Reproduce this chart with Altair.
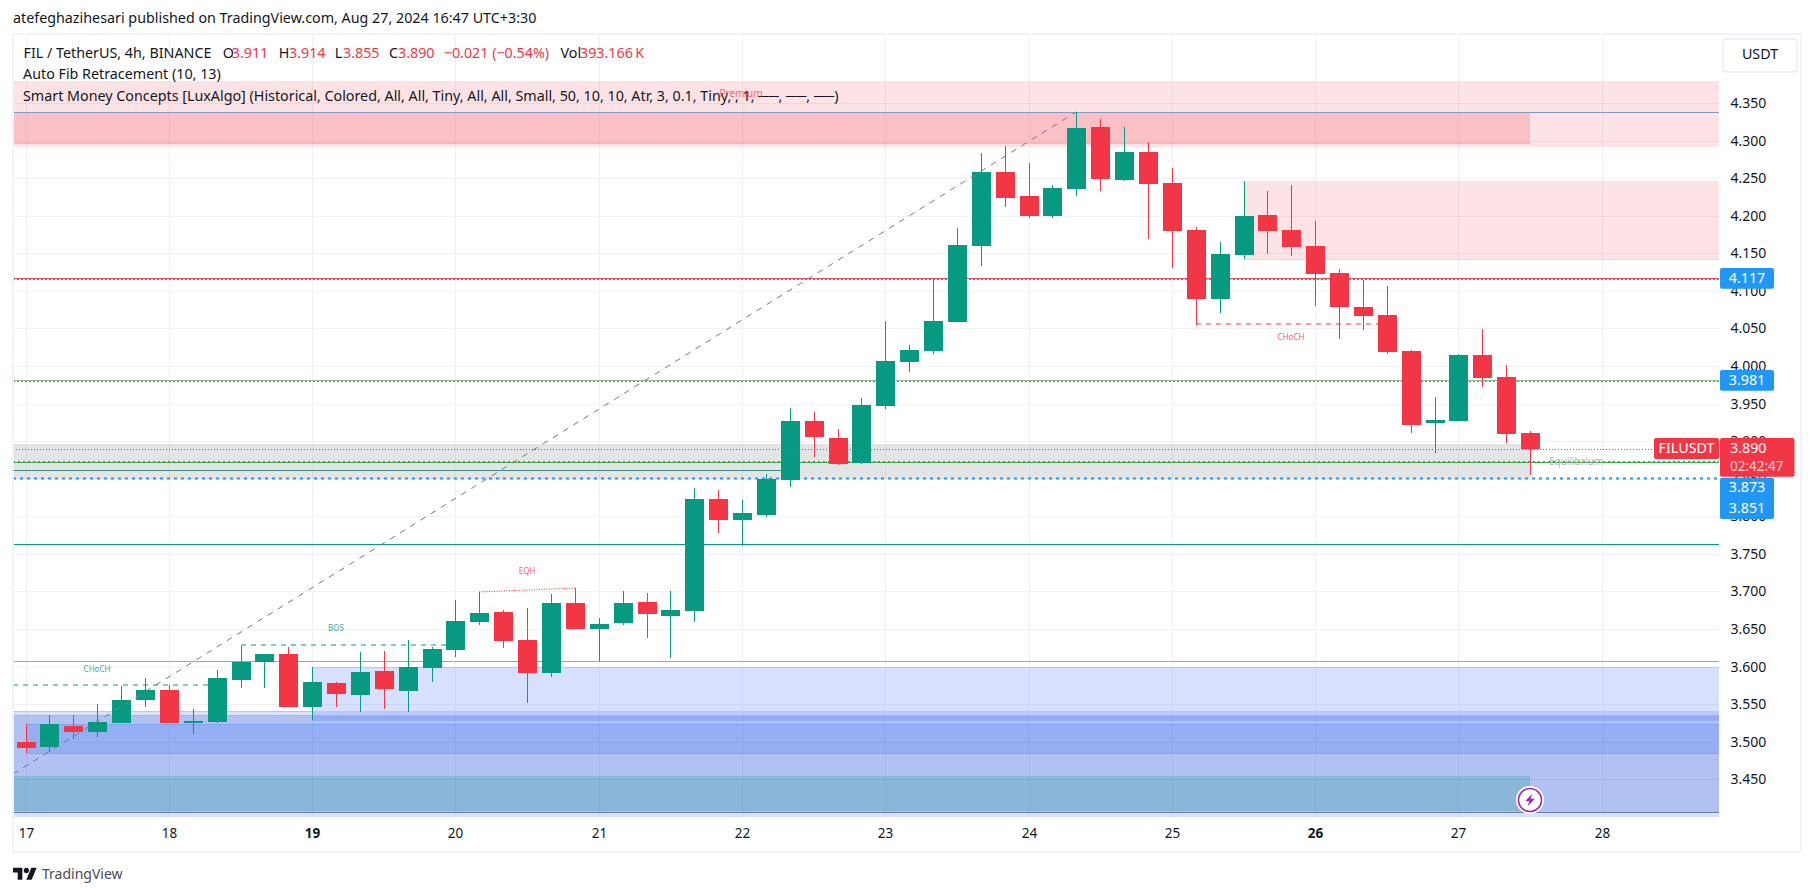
import altair as alt
import pandas as pd

FONT = "Noto Sans"
GREEN = "#089981"
RED = "#f23645"
BLUE = "#2196f3"

opens = [3.500,3.493,3.521,3.513,3.525,3.556,3.569,3.525,3.526,3.582,3.606,3.617,3.546,3.578,3.562,3.594,
         3.568,3.598,3.622,3.659,3.673,3.635,3.592,3.685,3.650,3.658,3.686,3.667,3.674,3.823,3.795,3.802,
         3.848,3.927,3.904,3.871,3.947,4.005,4.020,4.059,4.160,4.258,4.226,4.200,4.236,4.318,4.248,4.285,
         4.244,4.181,4.089,4.148,4.201,4.181,4.160,4.124,4.079,4.068,4.020,3.924,3.927,4.015,3.985,3.911]
highs = [3.524,3.536,3.536,3.550,3.574,3.585,3.576,3.544,3.596,3.628,3.617,3.626,3.600,3.580,3.619,3.621,
         3.635,3.626,3.689,3.699,3.675,3.678,3.697,3.704,3.665,3.701,3.698,3.701,3.838,3.835,3.822,3.856,
         3.944,3.939,3.916,3.957,4.060,4.028,4.116,4.184,4.283,4.293,4.270,4.241,4.338,4.329,4.318,4.298,
         4.264,4.185,4.165,4.246,4.233,4.241,4.193,4.129,4.114,4.106,4.021,3.959,4.016,4.049,4.001,3.914]
lows = [3.485,3.486,3.503,3.506,3.525,3.546,3.525,3.510,3.525,3.572,3.572,3.546,3.529,3.546,3.540,3.544,
        3.540,3.580,3.613,3.655,3.625,3.552,3.586,3.650,3.608,3.655,3.638,3.612,3.659,3.778,3.760,3.799,
        3.839,3.879,3.868,3.870,3.943,3.992,4.016,4.059,4.133,4.212,4.197,4.197,4.226,4.233,4.246,4.169,
        4.130,4.055,4.071,4.142,4.149,4.146,4.080,4.036,4.048,4.016,3.911,3.884,3.927,3.972,3.898,3.855]
closes = [3.492,3.524,3.513,3.526,3.556,3.569,3.525,3.528,3.585,3.606,3.617,3.546,3.580,3.564,3.593,3.570,
          3.600,3.623,3.661,3.671,3.634,3.592,3.685,3.650,3.657,3.685,3.670,3.675,3.823,3.795,3.804,3.850,
          3.927,3.906,3.870,3.948,4.007,4.021,4.060,4.161,4.258,4.224,4.200,4.237,4.317,4.249,4.285,4.242,
          4.180,4.089,4.149,4.200,4.180,4.158,4.122,4.079,4.067,4.019,3.921,3.928,4.015,3.984,3.910,3.890]
candle_index = list(range(len(opens)))

day_ticks = [0, 6, 12, 18, 24, 30, 36, 42, 48, 54, 60, 66]
price_ticks = [3.45, 3.5, 3.55, 3.6, 3.65, 3.7, 3.75, 3.8, 3.85, 3.9, 3.95, 4.0, 4.05, 4.1, 4.15, 4.2, 4.25, 4.3, 4.35]

X_MIN, X_MAX = -0.528, 70.91
Y_MIN, Y_MAX = 3.39987, 4.44045

# zones: left, right, low, high, fill, fill opacity
zone_left = [X_MIN, X_MIN, 51, X_MIN, 12, X_MIN, X_MIN, 0, X_MIN]
zone_right = [X_MAX, 63, X_MAX, 63, X_MAX, X_MAX, X_MAX, X_MAX, 63]
zone_low = [4.2918, 4.2971, 4.1428, 3.8492, 3.5289, 3.39987, 3.4066, 3.4854, 3.4078]
zone_high = [4.3792, 4.3376, 4.2468, 3.8962, 3.5995, 3.5409, 3.5356, 3.5236, 3.4545]
zone_fill = [RED, RED, RED, "#787b86", "#2962ff", "#2962ff", "#143cbe", "#2962ff", "#2fa0a0"]
zone_alpha = [0.14, 0.2, 0.14, 0.207, 0.19, 0.19, 0.196, 0.2, 0.3]

# horizontal levels: price, colour, dash, width, from, to
level_price = [4.3376, 4.1170, 4.1155, 3.9810, 3.9795, 3.8730, 3.8722, 3.8510, 3.7627, 3.8610, 3.6070, 3.4062,
               4.2971, 3.5995, 3.5409, 3.5356, 3.5289, 3.5236, 3.4854, 4.1428]
level_color = ["#7f9bc8", "#e0525c", BLUE, "#8fbf8e", BLUE, BLUE, "#3ea64a", BLUE, GREEN, "#3a8f7c", "#7ab0e8", "#6b7ea8",
               "#f7b3ba", "#afc8f7", "#b4c9f5", "#9db8f0", "#8fb0f2", "#7ea5ef", "#7ea5ef", "#f9d0d3"]
level_dash = [[1, 0], [1, 0], [2, 2], [1, 0], [2, 2], [2, 3], [1, 0], [3, 4], [1, 0], [1, 0], [1, 0], [1, 0],
              [1, 0], [1, 0], [1, 0], [1, 0], [1, 0], [1, 0], [1, 0], [1, 0]]
level_width = [1, 1, 1, 1, 1, 1, 1, 2, 1, 1, 1, 1,
               1, 1, 1, 1, 1, 1, 1, 1]
level_from = [X_MIN] * 12 + [X_MIN, 12, X_MIN, X_MIN, 12, 0, 0, 51]
level_to = [X_MAX] * 9 + [32, X_MAX, X_MAX] + [63, X_MAX, X_MAX, X_MAX, X_MAX, X_MAX, X_MAX, X_MAX]

# structure labels
struct_x1 = [X_MIN, 9, 19, 49]
struct_x2 = [8, 18, 23, 57]
struct_y1 = [3.5751, 3.6283, 3.6989, 4.0554]
struct_y2 = [3.5751, 3.6283, 3.7042, 4.0554]
struct_color = [GREEN, GREEN, RED, RED]
struct_dash = [[5, 5], [5, 5], [1, 1.5], [5, 5]]
struct_text = ["CHoCH", "BOS", "EQH", "CHoCH"]
struct_text_x = [3, 13, 21, 53]
struct_text_y = [3.5955, 3.65, 3.7259, 4.0373]

fib_x = [X_MIN, 44]
fib_y = [3.4567, 4.338]

xs = alt.Scale(domain=[X_MIN, X_MAX], round=True, nice=False, zero=False, padding=0)
ys = alt.Scale(domain=[Y_MIN, Y_MAX], round=True, nice=False, zero=False, padding=0)
AX = alt.Axis(
    values=day_ticks, labelExpr="toString(17 + datum.value / 6)", orient="bottom",
    ticks=False, domain=False, grid=True, gridColor="#f0f1f4", gridWidth=1,
    labelFont=FONT, labelFontSize=13.5, labelColor="#131722", labelPadding=9,
    labelFlush=False, labelOverlap=False,
    labelFontWeight={"condition": {"test": "datum.value == 12 || datum.value == 54", "value": "bold"}, "value": "normal"},
)
AY = alt.Axis(
    values=price_ticks, format=".3f", orient="right", ticks=False, domain=False,
    grid=True, gridColor="#f0f1f4", gridWidth=1,
    labelFont=FONT, labelFontSize=14, labelColor="#131722", labelPadding=11,
    labelOverlap=False, labelFlush=False,
)
def XF(f):
    return alt.X(f, scale=xs, axis=AX, title=None)
def YF(f):
    return alt.Y(f, scale=ys, axis=AY, title=None)
X = XF("i:Q")
Y = YF("p:Q")

px = lambda v: v - 13
py = lambda v: v - 35

zones = alt.Chart(pd.DataFrame({
    "x1": zone_left, "x2": zone_right, "y1": zone_low, "y2": zone_high,
    "f": zone_fill, "a": zone_alpha, "o": list(range(len(zone_left))),
})).mark_rect().encode(
    x=XF("x1:Q"), x2="x2:Q", y=YF("y1:Q"), y2="y2:Q",
    fill=alt.Fill("f:N", scale=None), fillOpacity=alt.FillOpacity("a:Q", scale=None),
    order="o:Q",
)

levels = []
for k in range(len(level_price)):
    d = pd.DataFrame({"x1": [level_from[k]], "x2": [level_to[k]], "p": [level_price[k]]})
    levels.append(alt.Chart(d).mark_rule(color=level_color[k], strokeDash=level_dash[k],
                                         strokeWidth=level_width[k], yOffset=0.5).encode(
        x=XF("x1:Q"), x2="x2:Q", y=Y))

structs = []
for k in range(4):
    d = pd.DataFrame({"i": [struct_x1[k], struct_x2[k]], "p": [struct_y1[k], struct_y2[k]]})
    structs.append(alt.Chart(d).mark_line(color=struct_color[k], strokeDash=struct_dash[k], strokeWidth=1).encode(x=X, y=Y))
    t = pd.DataFrame({"i": [struct_text_x[k]], "p": [struct_text_y[k]], "t": [struct_text[k]]})
    structs.append(alt.Chart(t).mark_text(color=struct_color[k], font=FONT, fontSize=8, opacity=0.8).encode(x=X, y=Y, text="t:N"))

frame = pd.DataFrame({"i": candle_index, "o": opens, "h": highs, "l": lows, "c": closes})
frame["col"] = [GREEN if c >= o else RED for o, c in zip(opens, closes)]
wicks = alt.Chart(frame).mark_rule(strokeWidth=1, xOffset=0.5).encode(
    x=X, y=YF("l:Q"), y2="h:Q", color=alt.Color("col:N", scale=None))
bodies = alt.Chart(frame).mark_bar(size=19, xOffset=0.5, orient="vertical").encode(
    x=X, y=YF("o:Q"), y2="c:Q", color=alt.Color("col:N", scale=None))

redline = alt.Chart(pd.DataFrame({"x1": [X_MIN], "x2": [68.3], "p": [3.8895]})).mark_rule(
    color=RED, strokeDash=[1, 2], strokeWidth=1, yOffset=0.5).encode(
    x=XF("x1:Q"), x2="x2:Q", y=Y)
fib = alt.Chart(pd.DataFrame({"i": fib_x, "p": fib_y})).mark_line(
    color="#787b86", strokeDash=[6, 6], strokeWidth=1).encode(x=X, y=Y)

def txt(x, y, s, color="#131722", size=14.3, align="left", weight="normal", opacity=1.0):
    return alt.Chart(pd.DataFrame({"t": [s]})).mark_text(
        align=align, baseline="middle", color=color, font=FONT, fontSize=size,
        fontWeight=weight, opacity=opacity,
    ).encode(x=alt.value(px(x)), y=alt.value(py(y)), text="t:N")

def box(x1, x2, y1, y2, fill="#ffffff", stroke=None, radius=2):
    kw = dict(fill=fill, cornerRadius=radius)
    if stroke:
        kw.update(stroke=stroke, strokeWidth=1)
    return alt.Chart(pd.DataFrame({"a": [0]})).mark_rect(**kw).encode(
        x=alt.value(px(x1)), x2=alt.value(px(x2)), y=alt.value(py(y1)), y2=alt.value(py(y2)))

chrome = [
    alt.Chart(pd.DataFrame({"a": [0]})).mark_rect(fillOpacity=0, stroke="#f0f3fa", strokeWidth=2).encode(
        x=alt.value(px(13)), x2=alt.value(px(1801)), y=alt.value(py(34)), y2=alt.value(py(852))),
    txt(13, 18.5, "atefeghazihesari published on TradingView.com, Aug 27, 2024 16:47 UTC+3:30"),
]
row1 = [(23.5, "FIL / TetherUS, 4h, BINANCE", "#131722"), (222.7, "O", "#131722"), (231.7, "3.911", RED),
        (278.7, "H", "#131722"), (289, "3.914", RED), (334.7, "L", "#131722"), (343, "3.855", RED),
        (389, "C", "#131722"), (398, "3.890", RED), (443.7, "\u22120.021 (\u22120.54%)", RED),
        (560.5, "Vol", "#131722"), (580, "393.166\u202fK", RED)]
chrome += [txt(x, 53.5, s, c) for x, s, c in row1]
chrome += [
    txt(23, 75, "Auto Fib Retracement (10, 13)"),
    txt(23, 96.5, "Smart Money Concepts [LuxAlgo] (Historical, Colored, All, All, Tiny, All, All, Small, 50, 10, 10, Atr, 3, 0.1, Tiny, , 1, \u2500\u2500, \u2500\u2500, \u2500\u2500)"),
    txt(741, 94, "Premium", RED, size=10, align="center", opacity=0.75),
    txt(1576, 462, "Equilibrium", "#b2b5be", size=10, align="center"),
    # price tags
    box(1720, 1774, 268, 288.7, BLUE),
    txt(1747, 278.5, "4.117", "#ffffff", align="center"),
    box(1720, 1774, 370, 390.7, BLUE),
    txt(1747, 380.5, "3.981", "#ffffff", align="center"),
    box(1720, 1774, 477.7, 519, BLUE),
    txt(1747, 487.5, "3.873", "#ffffff", align="center"),
    txt(1747, 508.7, "3.851", "#ffffff", align="center"),
    box(1654, 1719, 438, 459, RED),
    txt(1686.5, 448.5, "FILUSDT", "#ffffff", align="center"),
    box(1720, 1794.5, 438, 476.7, RED),
    txt(1730, 448.5, "3.890", "#ffffff"),
    txt(1730, 466.7, "02:42:47", "#fcd4d8", size=13.5),
    # currency button
    box(1723, 1797, 39, 72, "#ffffff", "#e0e3eb", 4),
    txt(1760, 54.5, "USDT", "#131722", align="center"),
    # footer
    txt(42, 874.5, "TradingView", "#4a4d57", size=14),
]

logo_path = ("M-0.222 0.444H-0.611V-0.167H-1V-0.556H-0.222Z"
             "M0.556 0.444H0.111L0.528 -0.556H0.972Z"
             "M-0.111 -0.333a0.222 0.222 0 1 0 0.444 0a0.222 0.222 0 1 0 -0.444 0Z")
logo = alt.Chart(pd.DataFrame({"a": [0]})).mark_point(
    shape=logo_path, filled=True, color="#131722", size=576, opacity=1).encode(
    x=alt.value(px(25)), y=alt.value(py(874.5)))

flash_pt = pd.DataFrame({"i": [63], "p": [3.4227]})
flash = [
    alt.Chart(flash_pt).mark_point(shape="circle", filled=True, color="#ffffff", size=784, opacity=1).encode(x=X, y=Y),
    alt.Chart(flash_pt).mark_point(shape="circle", filled=False, color="#9c27b0", size=530, strokeWidth=1.6, opacity=1).encode(x=X, y=Y),
    alt.Chart(flash_pt).mark_point(shape="M0.35 -1L-0.75 0.2L-0.1 0.2L-0.35 1L0.75 -0.2L0.1 -0.2Z",
                                   filled=True, color="#9c27b0", size=160, opacity=1).encode(x=X, y=Y),
]

chart = alt.layer(
    zones, *levels, wicks, bodies, redline, fib, *structs, *chrome, logo, *flash,
).properties(
    width=1706, height=782,
    padding={"left": 5, "top": 27, "right": 87, "bottom": 71},
    autosize=alt.AutoSizeParams(type="none"),
    background="#ffffff",
).configure_view(stroke=None)

chart.save("out.html", embed_options={"renderer": "svg", "actions": False})
